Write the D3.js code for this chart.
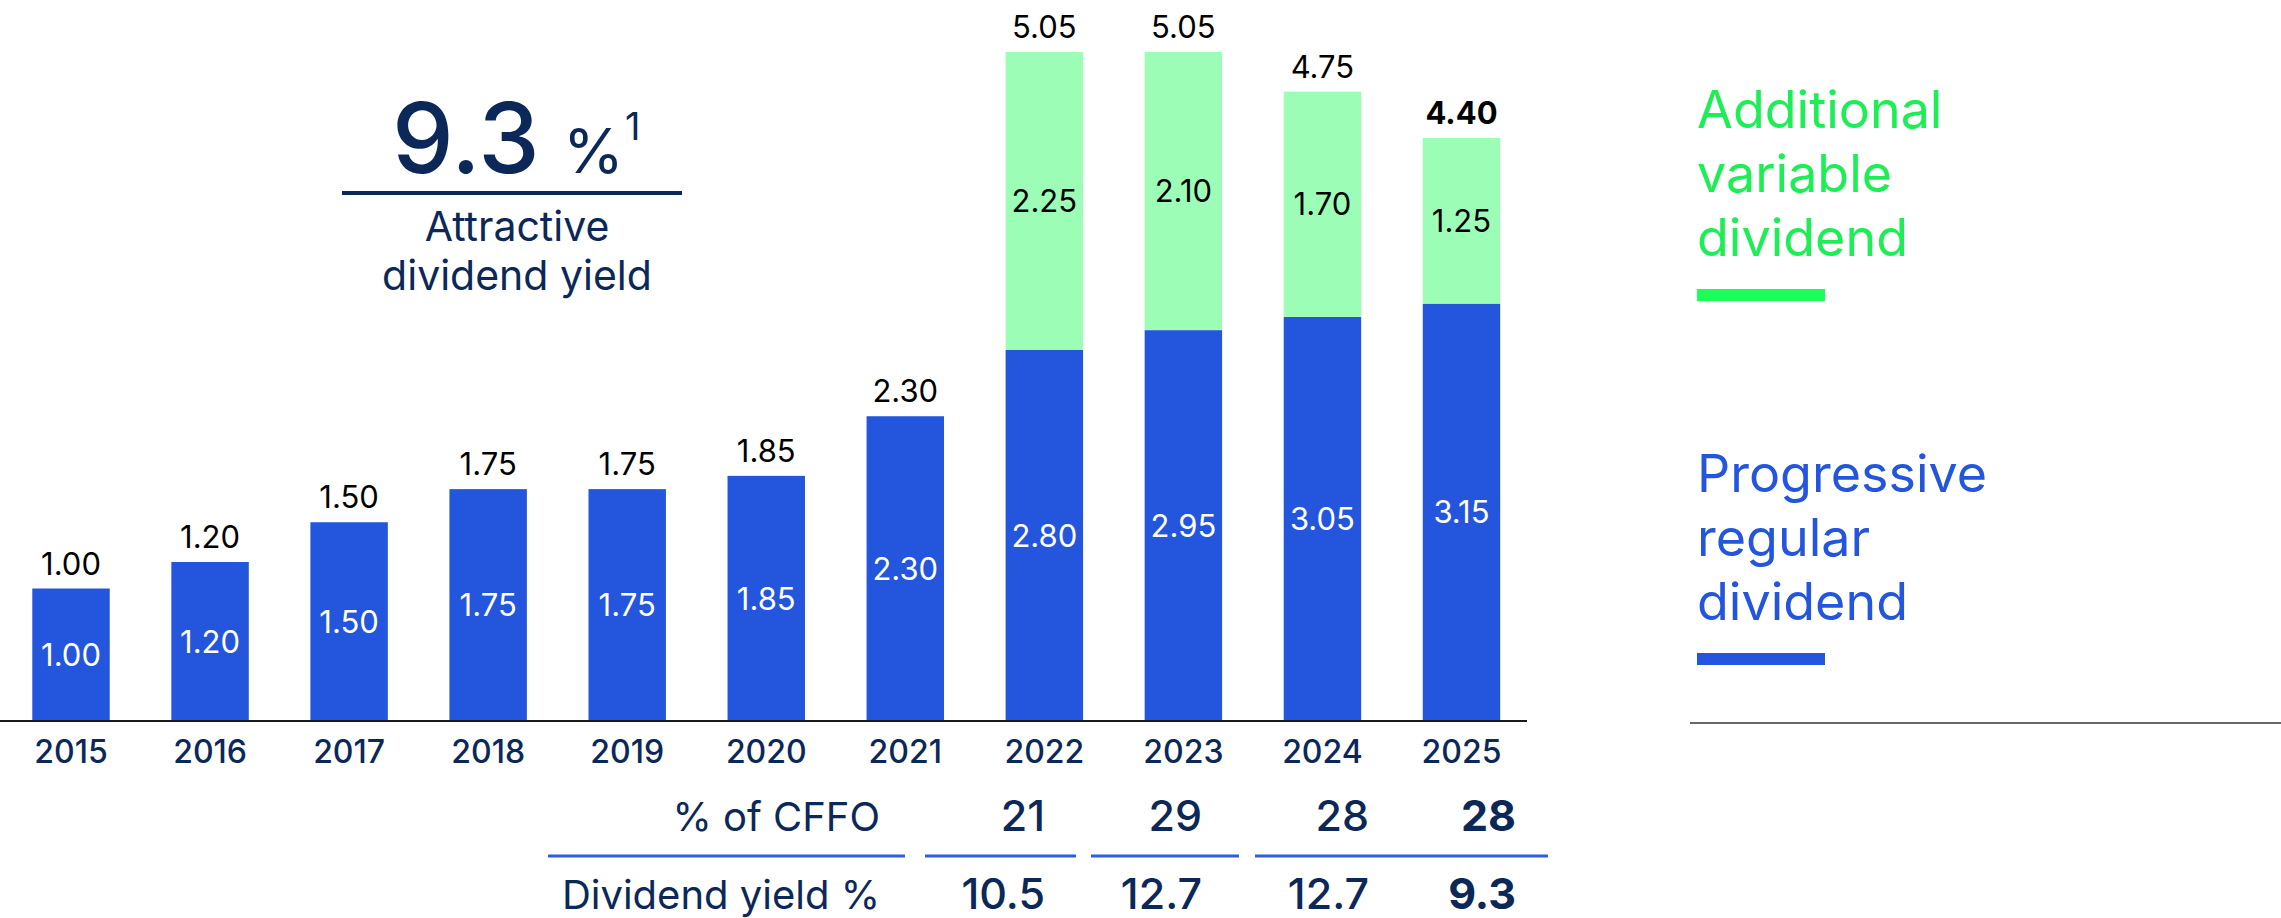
<!DOCTYPE html>
<html>
<head>
<meta charset="utf-8">
<script src="https://cdn.jsdelivr.net/npm/d3@7"></script>
<style>
  body { margin: 0; background: #fff; }
  svg { display: block; font-family: Inter, Roboto, "Noto Sans", sans-serif; }
</style>
</head>
<body>
<div id="chart"></div>
<script>
// data
var years    = ["2015","2016","2017","2018","2019","2020","2021","2022","2023","2024","2025"];
var regular  = [1.00, 1.20, 1.50, 1.75, 1.75, 1.85, 2.30, 2.80, 2.95, 3.05, 3.15];
var variable = [0, 0, 0, 0, 0, 0, 0, 2.25, 2.10, 1.70, 1.25];

var tableYears  = ["2022","2023","2024","2025"];
var cffoPct     = ["21","29","28","28"];
var yieldPct    = ["10.5","12.7","12.7","9.3"];

var headline    = "9.3";
var legendItems = [
  {key: "variable", lines: ["Additional", "variable", "dividend"]},
  {key: "regular",  lines: ["Progressive", "regular", "dividend"]}
];

// colours
var navy = "#0b2858", blue = "#2356dd", lightGreen = "#9cfeb6",
    green = "#1eee55", greenBar = "#1cff5a";

var W = 2281, H = 918;
var baseY = 721;

var svg = d3.select("#chart").append("svg")
  .attr("width", W)
  .attr("height", H);

// scales
var x = d3.scaleBand()
  .domain(years)
  .range([1.5, 1531])
  .paddingInner(0.443)
  .paddingOuter(0.2215);

var y = d3.scaleLinear()
  .domain([0, 5.05])
  .range([baseY, baseY - 5.05 * 132.5]);

var rows = years.map(function(yr, i) {
  return {year: yr, regular: regular[i], variable: variable[i], total: regular[i] + variable[i]};
});

var stack = d3.stack().keys(["regular", "variable"])(rows);
var fills = {regular: blue, variable: lightGreen};

var g = svg.append("g");

// stacked bars
stack.forEach(function(layer) {
  g.selectAll(".bar-" + layer.key)
    .data(layer.filter(function(d) { return d[1] - d[0] > 0; }))
    .enter().append("rect")
    .attr("class", "bar-" + layer.key)
    .attr("x", function(d) { return x(d.data.year); })
    .attr("width", x.bandwidth())
    .attr("y", function(d) { return y(d[1]); })
    .attr("height", function(d) { return y(d[0]) - y(d[1]); })
    .attr("fill", fills[layer.key]);

  // value inside the segment
  g.selectAll(".inlabel-" + layer.key)
    .data(layer.filter(function(d) { return d[1] - d[0] > 0; }))
    .enter().append("text")
    .attr("x", function(d) { return x(d.data.year) + x.bandwidth() / 2; })
    .attr("y", function(d) { return (y(d[0]) + y(d[1])) / 2; })
    .attr("dy", "0.36em")
    .attr("text-anchor", "middle")
    .attr("font-size", 31)
    .attr("fill", layer.key == "regular" ? "#fff" : "#000")
    .text(function(d) { return (d[1] - d[0]).toFixed(2); });
});

// totals above bars
g.selectAll(".total")
  .data(rows)
  .enter().append("text")
  .attr("class", "total")
  .attr("x", function(d) { return x(d.year) + x.bandwidth() / 2; })
  .attr("y", function(d) { return y(d.total) - 14; })
  .attr("text-anchor", "middle")
  .attr("font-size", 31)
  .attr("font-weight", function(d, i) { return i == rows.length - 1 ? 700 : 400; })
  .attr("fill", "#000")
  .text(function(d) { return d.total.toFixed(2); });

// baseline
g.append("line")
  .attr("x1", 0).attr("x2", 1527)
  .attr("y1", baseY).attr("y2", baseY)
  .attr("stroke", "#1a1a1a")
  .attr("stroke-width", 2);

// year axis
var xAxis = g.append("g")
  .attr("transform", "translate(0," + baseY + ")")
  .call(d3.axisBottom(x).tickSize(0).tickPadding(0));
xAxis.select(".domain").remove();
xAxis.selectAll("text")
  .attr("y", 42)
  .attr("dy", 0)
  .attr("font-size", 32)
  .attr("font-weight", 500)
  .attr("font-family", "Inter, Roboto, sans-serif")
  .attr("fill", navy);

// headline yield
var head = svg.append("g").attr("fill", navy);
head.append("text")
  .attr("x", 392).attr("y", 173)
  .attr("font-size", 98)
  .attr("font-weight", 500)
  .text(headline);
head.append("text")
  .attr("x", 563).attr("y", 173)
  .attr("font-size", 62)
  .text("%");
head.append("text")
  .attr("x", 625).attr("y", 140)
  .attr("font-size", 38)
  .text("1");
head.append("line")
  .attr("x1", 342).attr("x2", 682)
  .attr("y1", 193).attr("y2", 193)
  .attr("stroke", navy)
  .attr("stroke-width", 4);
head.append("text")
  .attr("x", 517).attr("y", 241)
  .attr("text-anchor", "middle")
  .attr("font-size", 41)
  .text("Attractive");
head.append("text")
  .attr("x", 517).attr("y", 290)
  .attr("text-anchor", "middle")
  .attr("font-size", 41)
  .text("dividend yield");

// table under the chart
var col = d3.scaleOrdinal().domain(tableYears).range([1045, 1202, 1369, 1516]);
var table = svg.append("g").attr("fill", navy);

table.append("text")
  .attr("x", 880).attr("y", 831)
  .attr("text-anchor", "end")
  .attr("font-size", 40)
  .text("% of CFFO");
table.append("text")
  .attr("x", 880).attr("y", 909)
  .attr("text-anchor", "end")
  .attr("font-size", 40)
  .text("Dividend yield %");

[cffoPct, yieldPct].forEach(function(vals, r) {
  table.selectAll(".row" + r)
    .data(vals)
    .enter().append("text")
    .attr("class", "row" + r)
    .attr("x", function(d, i) { return col(tableYears[i]); })
    .attr("y", r == 0 ? 831 : 909)
    .attr("text-anchor", "end")
    .attr("font-size", 43)
    .attr("font-weight", function(d, i) { return i == vals.length - 1 ? 700 : 500; })
    .text(function(d) { return d; });
});

var segs = [[548, 905], [925, 1076], [1091, 1239], [1255, 1548]];
table.selectAll(".seg")
  .data(segs)
  .enter().append("line")
  .attr("class", "seg")
  .attr("x1", function(d) { return d[0]; })
  .attr("x2", function(d) { return d[1]; })
  .attr("y1", 856).attr("y2", 856)
  .attr("stroke", "#2d5ee0")
  .attr("stroke-width", 3);

// legend
var legend = svg.append("g");
var legendTop = {variable: 128, regular: 492};
var legendText = {variable: green, regular: blue};
var legendBar = {variable: greenBar, regular: blue};

legendItems.forEach(function(item) {
  var t = legend.append("text")
    .attr("x", 1697)
    .attr("y", legendTop[item.key])
    .attr("font-size", 52)
    .attr("fill", legendText[item.key]);
  item.lines.forEach(function(line, i) {
    t.append("tspan")
      .attr("x", 1697)
      .attr("dy", i == 0 ? 0 : 64)
      .text(line);
  });
  legend.append("rect")
    .attr("x", 1697)
    .attr("y", legendTop[item.key] + 161)
    .attr("width", 128)
    .attr("height", 12)
    .attr("fill", legendBar[item.key]);
});

legend.append("line")
  .attr("x1", 1690).attr("x2", W)
  .attr("y1", 723).attr("y2", 723)
  .attr("stroke", "#333")
  .attr("stroke-width", 1.5);
</script>
</body>
</html>
